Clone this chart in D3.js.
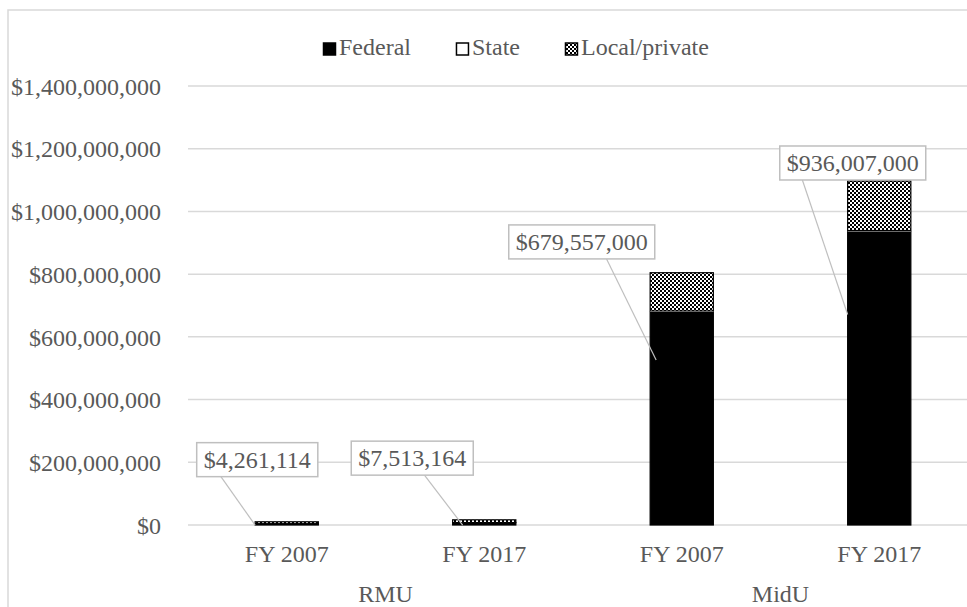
<!DOCTYPE html>
<html>
<head>
<meta charset="utf-8">
<script src="https://cdn.jsdelivr.net/npm/d3@7/dist/d3.min.js"></script>
<style>
  html, body { margin: 0; padding: 0; background: #fff; }
  svg text { font-family: "Liberation Serif", "Times New Roman", serif !important; }
</style>
</head>
<body>
<svg id="chart" width="967" height="607" font-family='"Liberation Serif", "Times New Roman", serif'></svg>
<script>
// ---------- data ----------
const groups = ["RMU", "RMU", "MidU", "MidU"];
const years = ["FY 2007", "FY 2017", "FY 2007", "FY 2017"];
const federal = [4261114, 7513164, 679557000, 936007000];
const state = [0, 0, 3000000, 3000000];
const localPrivate = [6000000, 9000000, 122000000, 158000000];
const seriesNames = ["Federal", "State", "Local/private"];
const yTicks = [0, 200000000, 400000000, 600000000, 800000000, 1000000000, 1200000000, 1400000000];
const labelText = ["$4,261,114", "$7,513,164", "$679,557,000", "$936,007,000"];

// label layout (pixel offsets, not data)
const labelLayout = [
  { dx: -29.5, dy: -64, sx: 0.2, ex: 0, ey: 1.5 },
  { dx: -72, dy: -64.5, sx: 0.6, ex: 10, ey: 2.5 },
  { dx: -100, dy: -70, sx: 0.67, ex: 6, ey: 48 },
  { dx: -26.5, dy: -68.5, sx: 0.155, ex: 0, ey: 83 }
];

const FONT = '"Liberation Serif", "Times New Roman", serif';
const svg = d3.select("#chart");
const textColor = "#595959";
const gridColor = "#d9d9d9";
const fontSize = 24;

const keys = years.map((d, i) => i);
const x = d3.scaleBand().domain(keys).range([188, 978]).paddingInner(0.68).paddingOuter(0.34);
const y = d3.scaleLinear().domain([0, 1400000000]).range([525, 86]);

// pattern: 2px checkerboard
const defs = svg.append("defs");
const pat = defs.append("pattern").attr("id", "checker")
  .attr("patternUnits", "userSpaceOnUse").attr("width", 4).attr("height", 4);
pat.append("rect").attr("width", 4).attr("height", 4).attr("fill", "#000");
pat.append("rect").attr("x", 0).attr("y", 0).attr("width", 2).attr("height", 2).attr("fill", "#fff");
pat.append("rect").attr("x", 2).attr("y", 2).attr("width", 2).attr("height", 2).attr("fill", "#fff");

const fills = ["#000", "#fff", "url(#checker)"];

// frame
svg.append("rect").attr("x", 8).attr("y", 10).attr("width", 1100).attr("height", 800)
  .attr("fill", "none").attr("stroke", gridColor).attr("stroke-width", 1.5);

// gridlines
svg.append("g").selectAll("line").data(yTicks).join("line")
  .attr("x1", 188).attr("x2", 978)
  .attr("y1", d => y(d)).attr("y2", d => y(d))
  .attr("stroke", gridColor).attr("stroke-width", 1.5);

// y axis labels
const yAxis = d3.axisLeft(y).tickValues(yTicks).tickSize(0)
  .tickFormat(d => "$" + d3.format(",")(d));
const gy = svg.append("g").attr("transform", "translate(161,0)").call(yAxis)
  .attr("font-family", FONT).attr("font-size", fontSize);
gy.select(".domain").remove();
gy.selectAll("text").attr("fill", textColor).attr("font-size", fontSize)
  .attr("font-family", FONT).attr("x", 0).attr("dy", "0.34em");

// stacked bars
const rows = keys.map(i => ({ i, Federal: federal[i], State: state[i], "Local/private": localPrivate[i] }));
const stack = d3.stack().keys(seriesNames)(rows);
svg.append("g").selectAll("g").data(stack).join("g")
  .attr("fill", (d, si) => fills[si])
  .attr("stroke", d => d.key === "State" ? "none" : "#000")
  .selectAll("rect").data(d => d.filter(p => p[1] - p[0] > 0)).join("rect")
  .attr("x", d => x(d.data.i))
  .attr("width", x.bandwidth())
  .attr("y", d => y(d[1]))
  .attr("height", d => y(d[0]) - y(d[1]))
  .attr("stroke-width", 1.2);

// category labels
svg.append("g").selectAll("text").data(keys).join("text")
  .attr("x", d => x(d) + x.bandwidth() / 2).attr("y", 562)
  .attr("text-anchor", "middle").attr("fill", textColor).attr("font-size", fontSize)
  .attr("font-family", FONT)
  .text(d => years[d]);

// group labels
const groupNames = Array.from(new Set(groups));
svg.append("g").selectAll("text").data(groupNames).join("text")
  .attr("x", g => d3.mean(keys.filter(i => groups[i] === g), i => x(i) + x.bandwidth() / 2))
  .attr("y", 602)
  .attr("text-anchor", "middle").attr("fill", textColor).attr("font-size", fontSize)
  .attr("font-family", FONT)
  .text(g => g);

// data labels with leader lines
const lg = svg.append("g");
keys.forEach(i => {
  const L = labelLayout[i];
  const cx = x(i) + x.bandwidth() / 2 + L.dx;
  const cy = y(federal[i]) + L.dy;
  const t = lg.append("text").attr("x", cx).attr("y", cy).attr("dy", "0.34em")
    .attr("text-anchor", "middle").attr("fill", textColor).attr("font-size", fontSize)
    .attr("font-family", FONT)
    .text(labelText[i]);
  const w = t.node().getComputedTextLength() + 14;
  const h = 34;
  const bx = cx - w / 2, by = cy - h / 2;
  lg.insert("line", "text")
    .attr("x1", bx + w * L.sx).attr("y1", by + h)
    .attr("x2", x(i) + L.ex).attr("y2", y(federal[i]) + L.ey)
    .attr("stroke", "#bfbfbf").attr("stroke-width", 1.2);
  lg.insert("rect", "text").attr("x", bx).attr("y", by).attr("width", w).attr("height", h)
    .attr("fill", "#fff").attr("stroke", "#bfbfbf").attr("stroke-width", 1.5);
});

// legend
const leg = svg.append("g");
let lx = 323;
seriesNames.forEach((name, si) => {
  leg.append("rect").attr("x", lx + 0.5).attr("y", 43).attr("width", 12).attr("height", 12)
    .attr("fill", fills[si]).attr("stroke", "#000").attr("stroke-width", 1.5);
  const t = leg.append("text").attr("x", lx + 16).attr("y", 55)
    .attr("fill", textColor).attr("font-size", fontSize).attr("font-family", FONT).text(name);
  lx += 16 + t.node().getComputedTextLength() + 45;
});
</script>
</body>
</html>
